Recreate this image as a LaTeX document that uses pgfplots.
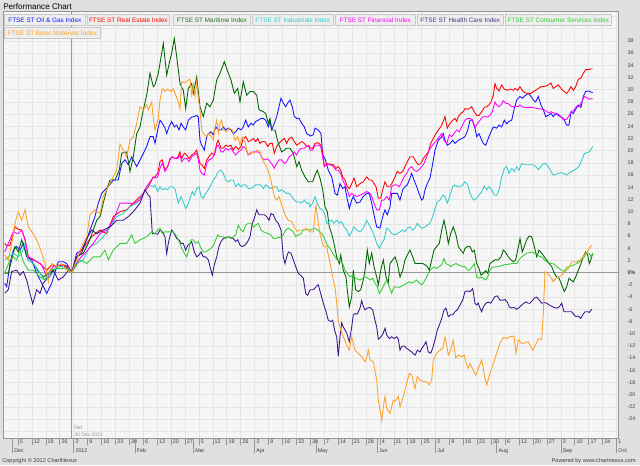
\documentclass[border=0pt]{standalone}
\usepackage{fontspec}
\setmainfont{Liberation Sans}
\usepackage{pgfplots}
\pgfplotsset{compat=1.18}
\definecolor{outerbg}{RGB}{224,224,224}
\definecolor{plotbg}{RGB}{246,246,246}
\definecolor{gridc}{RGB}{229,229,229}
\definecolor{framec}{RGB}{150,150,150}
\definecolor{tickc}{RGB}{60,60,60}
\definecolor{refc}{RGB}{140,158,140}
\definecolor{legfill}{RGB}{238,238,238}
\definecolor{legdraw}{RGB}{200,200,200}
\definecolor{cBlue}{RGB}{20,20,255}
\definecolor{cRed}{RGB}{255,0,0}
\definecolor{cDkGreen}{RGB}{0,100,0}
\definecolor{cCyan}{RGB}{51,204,204}
\definecolor{cMagenta}{RGB}{255,0,255}
\definecolor{cIndigo}{RGB}{60,20,140}
\definecolor{cGreen}{RGB}{50,205,50}
\definecolor{cOrange}{RGB}{255,160,40}
\newcommand{\tfont}{\fontsize{4}{4.5}\selectfont}
\newcommand{\lfont}{\fontsize{4.8}{5.5}\selectfont}
\begin{document}
\begin{tikzpicture}
\path[use as bounding box] (0,0) rectangle (480pt,348.75pt);
\fill[outerbg] (0,0) rectangle (480pt,348.75pt);
\begin{axis}[
  at={(2.625pt,20.25pt)}, anchor=south west,
  scale only axis, width=461.1pt, height=319.5pt,
  xmin=3.5, xmax=618.3, ymin=-27.1, ymax=42.74,
  axis background/.style={fill=plotbg},
  axis line style={draw=framec, line width=0.75pt},
  grid=major, major grid style={draw=gridc, line width=0.5pt},
  xtick={18,31.92,45.84,59.76,73.68,87.6,101.52,115.44,129.36,143.28,157.2,171.12,185.04,198.96,212.88,226.8,240.72,254.64,268.56,282.48,296.4,310.32,324.24,338.16,352.08,366,379.92,393.84,407.76,421.68,435.6,449.52,463.44,477.36,491.28,505.2,519.12,533.04,546.96,560.88,574.8,588.72,602.64,616.56},
  xticklabels={5,12,19,26,2,9,16,23,30,6,13,20,27,5,12,19,26,2,9,16,23,30,7,14,21,28,4,11,18,25,2,9,16,23,30,6,13,20,27,3,10,17,24,1},
  xtick pos=left, tick align=outside, major tick length=5.25pt,
  x tick style={draw=framec, line width=0.5pt},
  xticklabel style={anchor=north west, inner sep=0pt, xshift=1.2pt, yshift=4pt},
  ytick={-26,-24,...,42},
  yticklabels={,-24,-22,-20,-18,-16,-14,-12,-10,-8,-6,-4,-2,\textbf{0\%},2,4,6,8,10,12,14,16,18,20,22,24,26,28,30,32,34,36,38,,},
  ytick pos=right, yticklabel pos=right,
  y tick style={draw=none},
  yticklabel style={anchor=west, inner sep=0pt, xshift=1.5pt},
  ticklabel style={font=\tfont, text=tickc},
  extra x ticks={12.4,73.7,135,193.4,254.6,315.9,377.2,435.6,496.8,560.9,616.6},
  extra x tick labels={Dec,2012,Feb,Mar,Apr,May,Jun,Jul,Aug,Sep,Oct},
  extra x tick style={grid=none, major tick length=11.25pt, xticklabel style={yshift=-0.5pt}},
]
\addplot[draw=gray!80, line width=0.9pt, forget plot] coordinates {(3.5,0) (618.3,0)};
\addplot[draw=refc, line width=0.75pt, forget plot] coordinates {(71.7,-27.1) (71.7,42.74)};
% Oil & Gas
\addplot[cBlue, line width=0.65pt] coordinates {(4.7,-1.7)(6.7,-2.3)(10,1.5)(13.3,3.7)(16.7,4.3)(20,3.7)(23.3,4.8)(26.7,2.6)(31.7,2.1)(36.7,-0.1)(41.7,-1.7)(46.7,-3.4)(51.7,-1.7)(58.3,1.8)(63.3,1.8)(66.7,1.5)(71.7,0)(76.7,3.2)(81.7,3.7)(86.7,5.4)(90,7.0)(95,9.2)(98.3,11.4)(101.7,13.0)(105,13.6)(108.3,14.1)(113.3,15.2)(118.3,15.2)(121.7,17.9)(125,18.5)(128.3,17.7)(131.7,19.0)(136.7,17.4)(141.7,19.0)(146.7,20.7)(150,22.3)(153.3,22.3)(155,21.2)(157.7,23.4)(160,25.0)(162.3,24.5)(165,23.7)(166.7,22.8)(169,23.9)(171.7,24.8)(174.3,23.9)(176.7,24.2)(179,23.4)(181,24.5)(183.3,23.9)(185.7,23.4)(188.3,25.0)(191.7,25.5)(194.3,25.6)(196.7,25.8)(198.3,25.5)(200,21.7)(201.7,20.9)(204.3,20.1)(206.7,22.3)(208.3,22.8)(211,23.1)(213.3,22.6)(215.7,23.9)(218.3,23.4)(221,23.4)(223.3,23.9)(225.7,23.4)(228.3,23.7)(231,23.4)(233.3,22.8)(235.7,23.1)(238.3,23.7)(241,23.4)(243.3,23.9)(245.7,25.0)(248.3,23.9)(251,24.5)(253.3,24.2)(255.7,24.8)(258.3,25.0)(261,25.3)(263.3,25.3)(265.7,25.0)(268.3,23.9)(270,24.8)(271.7,23.4)(274.3,24.5)(276.7,25.6)(279,27.2)(281,28.6)(283.3,27.8)(285.7,27.2)(287.7,27.8)(290,28.3)(292.3,27.2)(294.3,25.6)(296.7,25.3)(299,25.3)(301.7,24.5)(304.3,23.9)(306.7,22.8)(309,22.6)(310,22.4)(313.3,22.6)(315,23.7)(318.3,23.4)(321,22.8)(322.7,19.3)(325,18.7)(328.3,16.8)(331.7,15.7)(335,13.0)(337.3,12.7)(340,14.6)(342.7,13.8)(345,14.1)(346.7,12.5)(349.3,10.5)(351.7,11.9)(353.3,12.5)(356.7,11.4)(360,11.6)(363.3,12.5)(366.7,13.0)(369.3,13.0)(371.7,11.4)(374,9.5)(376.7,7.5)(380,7.3)(382.7,9.2)(385,10.3)(387.3,9.5)(390,10.8)(391.7,13.0)(395,13.0)(397.3,13.0)(400,11.9)(402.7,13.6)(405,14.1)(407.3,14.4)(410,15.5)(411.7,16.3)(414,15.2)(416.7,14.1)(419,13.0)(421.7,11.9)(423.3,12.2)(425,13.6)(427.3,14.6)(430,15.5)(432.7,17.9)(435,20.1)(438.3,21.7)(441.7,22.3)(443.3,22.8)(445,21.7)(447.3,20.9)(450,21.2)(452.7,21.7)(455,21.2)(458.3,21.7)(461.7,22.0)(465,22.3)(467.7,23.4)(470,25.0)(472.3,25.0)(475,23.7)(476.7,22.3)(479,22.8)(481,22.0)(483.3,21.2)(485.7,20.9)(488.3,22.0)(491,23.1)(493.3,23.9)(496.7,23.7)(499,24.2)(501.7,23.9)(504.3,25.0)(506.7,24.4)(509,24.8)(511.7,25.0)(514.3,26.9)(516.7,28.3)(520,28.9)(522.3,28.6)(525,29.0)(528.3,29.4)(531,28.9)(533.3,28.3)(535.7,28.0)(538.3,28.9)(541,27.5)(543.3,26.7)(545.7,25.6)(548.3,25.8)(551,26.1)(553.3,25.6)(555.7,26.1)(558.3,25.8)(561,25.5)(563.3,25.3)(566.7,24.2)(569,24.2)(571,26.4)(573.3,26.1)(575.7,26.8)(578.3,27.5)(581,27.1)(583.3,28.9)(585.7,29.7)(588.3,29.8)(592.7,29.5)};
% Real Estate
\addplot[cRed, line width=0.65pt] coordinates {(4.7,4.8)(6.7,4.4)(10,4.5)(15,7.5)(18.3,7.1)(21.7,7.0)(25,5.5)(28.3,2.6)(33.3,2.1)(40,1.5)(46.7,0.4)(51.7,1.3)(56.7,1.0)(63.3,1.3)(68.3,1.0)(71.7,0)(76.7,2.6)(81.7,3.7)(86.7,4.8)(91.7,5.9)(100,7.0)(106.7,6.4)(113.3,9.2)(120,10.0)(126.7,10.3)(133.3,11.4)(143.3,13.0)(148.3,14.1)(153.3,15.7)(155,15.7)(157.7,16.3)(160,18.2)(162.3,18.5)(165,16.8)(167.7,17.4)(170,18.7)(172.3,19.0)(175,18.7)(177.7,18.9)(180,19.8)(181.7,18.7)(184.3,19.6)(186.7,19.3)(189,18.7)(191.7,19.3)(194.3,19.6)(196.7,20.1)(198.3,19.0)(200,17.9)(201.7,17.7)(204.3,17.1)(206.7,18.5)(209,19.0)(211.7,19.6)(214.3,19.3)(216.7,21.2)(218.3,21.7)(221,20.4)(223.3,20.4)(225.7,20.9)(228.3,20.7)(231,20.9)(233.3,20.1)(235.7,20.7)(238.3,20.2)(241,20.7)(243.3,22.0)(245.7,22.3)(248.3,21.5)(251,21.7)(253.3,22.0)(255.7,21.5)(257.7,22.0)(260,21.2)(262.3,21.5)(265,21.5)(267.7,20.7)(270,21.2)(272.3,21.2)(274.3,19.6)(276.7,20.7)(279,21.2)(281.7,21.7)(284.3,22.0)(286.7,21.2)(289,22.0)(291.7,22.2)(294.3,21.5)(296.7,20.9)(299,21.2)(301.7,21.5)(304.3,21.2)(306.7,20.7)(309,20.7)(310,20.5)(312.7,20.4)(315,21.2)(318.3,21.3)(320.7,20.9)(322.7,19.8)(324.3,17.4)(326.7,17.9)(330,17.8)(333.3,17.7)(336,17.1)(338.3,17.4)(340.7,16.8)(342.7,15.7)(345,15.2)(347.3,14.1)(349.3,13.8)(351.7,14.6)(354,15.5)(356.7,14.1)(360,14.6)(363.3,14.9)(366.7,15.7)(369.3,15.2)(371.7,15.2)(374,14.6)(376,14.1)(378.3,12.2)(380.7,12.2)(382.7,13.6)(385,14.9)(387.3,14.1)(390,14.1)(392.7,14.9)(395,15.7)(397.3,16.6)(400,16.3)(402.7,16.6)(405,17.4)(407.3,18.2)(410,19.0)(413.3,19.0)(416,18.2)(418.3,17.7)(420.7,17.9)(423.3,18.7)(426,19.3)(428.3,19.8)(430.7,21.2)(433.3,22.0)(436,22.8)(438.3,23.4)(440.7,23.9)(442.7,24.6)(445,25.6)(447.3,23.7)(450,24.5)(452.7,25.0)(455,25.3)(456.7,24.8)(458.3,25.6)(460.7,26.1)(463.3,26.4)(465,26.9)(468.3,26.8)(471.7,27.2)(474.3,26.4)(476.7,25.8)(479,25.8)(481.7,26.4)(484.3,27.1)(486.7,27.2)(489,27.5)(491,28.0)(493.3,29.1)(495,31.0)(496.7,30.2)(499,29.8)(501.7,30.8)(504.3,30.1)(507.7,29.9)(510,30.1)(513.3,29.9)(515,30.2)(517.7,29.9)(520,30.5)(522.3,29.9)(525,29.5)(528.3,29.4)(531,29.4)(533.3,29.7)(535.7,29.9)(538.3,30.2)(541,30.5)(543.3,30.5)(545.7,30.6)(548.3,30.8)(551,31.1)(553.3,30.2)(555.7,30.5)(558.3,30.8)(561,30.2)(563.3,29.8)(566.7,29.4)(569,29.9)(571,30.5)(573.3,29.9)(575.7,30.5)(578.3,31.7)(581,31.9)(583.3,32.7)(585.7,33.3)(588.3,33.3)(591,33.4)(592.7,33.4)};
% Maritime
\addplot[cDkGreen, line width=0.65pt] coordinates {(4.7,-0.1)(8.3,-0.1)(11.7,2.1)(15,4.3)(18.3,3.4)(21.7,5.4)(25,3.7)(28.3,2.1)(33.3,1.5)(38.3,0.2)(43.3,-0.7)(48.3,-0.1)(53.3,0.4)(60,1.3)(66.7,1.0)(71.7,0)(76.7,2.6)(83.3,3.2)(88.3,4.8)(93.3,7.0)(96.7,8.6)(100,9.2)(103.3,11.4)(106.7,13.6)(110,15.2)(115,15.2)(119.3,16.8)(121.7,19.6)(126.7,19.8)(130,16.6)(133.3,19.0)(136.7,22.8)(140,23.9)(143.3,26.7)(146.7,29.1)(150,32.7)(153.3,30.5)(155,30.8)(158.3,32.7)(161.7,36.0)(163.3,37.6)(166.7,32.4)(170,34.9)(171.7,36.0)(174.3,38.4)(176.7,35.4)(180,31.0)(183.3,29.9)(185.7,26.9)(188.3,30.2)(191.7,31.0)(193.3,29.4)(196.7,32.1)(198.3,29.7)(200,27.2)(203.3,25.6)(206.7,27.8)(210,27.2)(213.3,28.3)(216.7,31.6)(220,32.7)(224.3,34.6)(227.7,33.0)(231,31.6)(234.3,29.4)(237.7,30.2)(240,28.0)(243.3,31.3)(246.7,29.1)(250,29.7)(253.3,29.7)(256.7,29.1)(259,26.7)(263.3,26.4)(265.7,26.1)(268.3,24.5)(270,25.3)(271.7,23.4)(275,23.4)(278.3,21.2)(281.7,19.8)(286.7,20.4)(290,20.4)(293.3,19.6)(296.7,17.4)(299,18.2)(301.7,16.8)(305,15.7)(308.3,14.9)(310,14.9)(312.7,14.9)(315,16.0)(317.3,16.8)(320,15.5)(322.7,13.6)(325,10.8)(327.3,10.0)(329.3,7.5)(331.7,6.4)(334,4.8)(336.7,2.6)(339.3,1.5)(340.7,2.9)(343.3,0.4)(346,-0.7)(347.3,-2.8)(349.3,-5.6)(351.7,-3.9)(353.3,0.4)(355.7,-2.8)(358.3,-3.1)(360.7,-2.8)(363.3,-1.2)(365,0.4)(367.3,3.7)(369.3,1.5)(371.7,3.2)(374,1.0)(376.7,-0.7)(378.3,-2.0)(380.7,0.4)(383.3,2.1)(386,-0.7)(388.3,-1.7)(390,1.5)(392.7,2.1)(395,2.6)(397.3,1.5)(400,-0.7)(402.7,0.4)(405,2.1)(407.3,2.9)(410,3.7)(412.7,2.6)(415,1.5)(417.3,1.5)(422.7,1.5)(425,1.3)(427.3,1.0)(429.3,0.4)(431.7,2.1)(434,3.7)(436.7,4.3)(439.3,4.8)(441.7,7.0)(444,8.6)(446.7,6.4)(448.3,4.8)(450.7,6.4)(453.3,7.5)(456,6.2)(458.3,4.3)(460.7,3.7)(463.3,3.2)(465,4.0)(467.7,4.3)(470,4.3)(472.3,3.4)(474.3,3.7)(476.7,1.5)(479,0.7)(481,-0.4)(483.3,-0.1)(485.7,0.3)(487.7,-0.1)(490,1.5)(492.3,1.8)(495,2.1)(498.3,2.1)(501,2.6)(503.3,3.7)(505.7,3.3)(508.3,2.6)(511,2.1)(513.3,1.8)(515.7,2.1)(517.7,3.7)(520,5.6)(522.3,3.4)(524.3,4.3)(526.7,5.4)(529,6.0)(531.7,5.9)(534.3,4.3)(536.7,2.6)(539,3.7)(541.7,3.2)(544.3,2.6)(546.7,2.1)(549,1.5)(551.7,1.0)(554.3,-0.1)(556.7,-0.7)(559,-0.9)(561.7,-2.0)(564.3,-3.1)(566.7,-2.3)(569,-0.9)(571,-1.2)(573.3,-1.5)(575.7,-0.7)(578.3,0.4)(581,1.5)(583.3,2.6)(585.7,3.4)(587.7,2.9)(589.3,1.5)(591,2.2)(592.7,3.2)};
% Industrials
\addplot[cCyan, line width=0.65pt] coordinates {(4.7,2.1)(8.3,2.6)(13.3,3.2)(18.3,2.6)(21.7,3.2)(25,4.8)(28.3,2.1)(33.3,1.5)(38.3,0.4)(43.3,-0.9)(50,-0.7)(56.7,1.0)(63.3,1.0)(68.3,0.7)(71.7,0)(76.7,1.5)(83.3,2.1)(90,4.3)(96.7,4.8)(103.3,5.9)(110,7.5)(116.7,9.2)(123.3,9.7)(130,10.8)(136.7,11.4)(143.3,13.0)(148.3,14.4)(153.3,14.1)(155,14.4)(157.7,13.3)(160,14.1)(162.3,13.6)(165,13.8)(167.7,13.6)(170,14.1)(172.3,14.1)(175,13.8)(176.7,12.5)(178.3,11.4)(181,12.5)(183.3,11.6)(185.7,10.5)(187.7,11.1)(190,12.2)(192.3,13.3)(194.3,12.7)(196.7,13.8)(199,14.1)(201,12.5)(203.3,12.2)(205.7,13.0)(208.3,13.6)(211,14.4)(213.3,15.2)(215.7,15.7)(218.3,16.6)(221,16.8)(223.3,16.3)(225.7,15.2)(228.3,14.9)(231,15.2)(233.3,15.2)(235.7,14.1)(238.3,14.6)(241,14.1)(243.3,14.4)(245.7,14.4)(248.3,13.8)(251,13.8)(253.3,14.1)(255.7,14.4)(261,14.4)(263.3,13.8)(265.7,14.4)(268.3,14.1)(270,13.8)(274.3,14.1)(276.7,14.1)(279,13.3)(281.7,13.6)(284.3,13.3)(286.7,13.0)(289,13.0)(291.7,12.5)(294.3,11.9)(296.7,11.6)(299,11.6)(301.7,11.4)(304.3,11.9)(306.7,11.4)(309,11.4)(310,10.8)(312.7,11.4)(315,12.5)(317.3,11.4)(320,10.5)(322.7,10.3)(325,9.5)(326.7,8.1)(329.3,8.4)(331.7,8.6)(334,8.1)(336.7,8.6)(339.3,8.1)(341.7,8.4)(344,7.5)(346.7,7.0)(349.3,6.0)(351.7,6.7)(354,7.5)(356.7,7.0)(360,6.7)(363.3,7.3)(366.7,8.6)(369.3,7.8)(371.7,7.0)(374,6.2)(376.7,4.8)(379.3,4.0)(381.7,4.8)(384,5.4)(386.7,7.3)(389.3,7.0)(391.7,6.4)(395,6.2)(397.3,6.4)(400,6.7)(402.7,7.0)(405,6.7)(407.3,7.3)(410,7.5)(412.7,7.0)(415,7.3)(417.3,8.1)(420,7.5)(422.7,7.3)(425,7.5)(427.3,7.8)(430,8.1)(432.7,9.2)(435,10.5)(437.3,11.6)(440,11.9)(442.7,12.7)(445,12.5)(447.3,11.4)(450,12.7)(452.7,14.1)(455,14.4)(457.3,14.1)(460,14.1)(462.7,14.4)(465,14.9)(467.7,14.4)(470,13.0)(472.3,12.2)(474.3,11.9)(476.7,12.2)(479,12.7)(481.7,13.3)(484.3,14.2)(486.7,13.6)(489,14.1)(491.7,13.6)(494.3,12.7)(496.7,12.7)(499,13.6)(501.7,15.7)(504.3,17.1)(506.7,17.4)(509,16.3)(511.7,17.1)(514.3,16.6)(516.7,17.4)(519,16.8)(521.7,17.9)(524.3,17.7)(530,17.7)(533.3,17.7)(535.7,17.4)(538.3,16.9)(541,17.4)(543.3,17.9)(545.7,17.9)(548.3,17.4)(551,16.6)(553.3,16.0)(555.7,16.1)(558.3,16.3)(561,16.4)(563.3,16.3)(566.7,16.0)(569,16.3)(571.7,16.6)(574.3,16.8)(576.7,17.1)(579,17.4)(581.7,18.5)(584.3,19.5)(586.7,19.7)(589,19.8)(591,20.2)(592.7,20.7)};
% Financial
\addplot[cMagenta, line width=0.65pt] coordinates {(4.7,3.4)(8.3,4.8)(13.3,6.7)(18.3,6.4)(21.7,7.0)(25,5.4)(28.3,2.6)(33.3,2.2)(41.7,1.3)(46.7,-0.7)(53.3,1.0)(60,1.3)(66.7,0.9)(71.7,0)(78.3,2.1)(85,3.2)(93.3,4.8)(100,6.4)(106.7,7.0)(113.3,8.6)(120,11.4)(128.3,11.4)(133.3,11.3)(140,11.9)(146.7,14.1)(153.3,15.7)(155,15.5)(157.7,15.7)(160,17.1)(162.3,18.0)(165,16.6)(167.7,17.4)(170,18.5)(172.3,19.0)(175,18.7)(177.7,18.7)(180,19.3)(181.7,18.2)(184.3,18.7)(186.7,18.7)(189,18.2)(191.7,19.0)(194.3,19.3)(196.7,19.6)(198.3,18.5)(200,16.8)(201.7,16.3)(204.3,16.0)(206.7,17.9)(209,18.5)(211.7,18.7)(214.3,19.3)(216.7,20.7)(218.3,20.9)(221,19.8)(223.3,19.8)(225.7,20.4)(228.3,20.1)(231,20.4)(233.3,19.8)(235.7,19.3)(238.3,19.8)(241,20.1)(243.3,20.7)(245.7,20.4)(248.3,19.3)(251,19.6)(253.3,19.8)(257.7,19.8)(260,19.6)(262.3,18.7)(265,18.5)(267.7,18.7)(270,18.2)(272.3,17.7)(274.3,17.1)(276.7,17.9)(279,18.5)(281.7,18.5)(284.3,17.9)(286.7,18.2)(289,19.0)(291.7,19.3)(294.3,19.8)(296.7,19.3)(299,20.1)(301.7,20.4)(304.3,20.4)(306.7,20.7)(309,20.9)(310,20.1)(312.7,20.1)(315,20.9)(318.3,20.9)(320.7,20.7)(322.7,19.0)(324.3,17.4)(327.3,17.7)(330,17.7)(333.3,17.4)(336,16.8)(338.3,16.8)(340.7,16.3)(342.7,15.2)(345,14.4)(347.3,13.6)(349.3,12.5)(351.7,13.0)(354,12.7)(356.7,12.5)(360,12.7)(363.3,13.0)(366.7,13.3)(369.3,13.1)(371.7,12.5)(374,11.4)(376.7,10.3)(379.3,10.3)(381.7,11.9)(384,11.9)(386.7,12.5)(389.3,11.9)(391.7,14.1)(394,14.4)(396.7,14.4)(399.3,14.1)(401.7,14.9)(404,15.7)(406.7,16.3)(409.3,17.1)(411.7,17.4)(414,16.8)(416.7,16.6)(419.3,16.9)(421.7,17.4)(424,17.9)(426.7,19.0)(429.3,20.1)(431.7,20.7)(434,21.2)(436.7,21.7)(439.3,22.3)(441.7,22.8)(444,21.7)(446.7,21.2)(449.3,22.6)(451.7,22.3)(454,22.8)(456.7,23.4)(459.3,23.1)(461.7,23.9)(465,25.0)(467.7,25.3)(470,25.3)(472.3,25.1)(475,23.8)(477.7,24.5)(480,25.0)(482.3,25.5)(485,25.6)(487.7,25.5)(490,25.8)(492.3,26.4)(495,28.0)(496.7,27.5)(499,27.2)(501,27.5)(503.3,28.2)(505.7,27.8)(508.3,27.7)(511,27.3)(513.3,27.2)(515.7,27.3)(518.3,27.2)(520,27.5)(522.3,27.2)(525,27.1)(531.7,27.1)(535,27.0)(538.3,26.9)(541.7,26.8)(544.3,26.7)(546.7,26.4)(549,26.2)(551,26.4)(553.3,26.2)(555.7,26.1)(558.3,26.0)(561,25.6)(563.3,25.1)(566.7,25.1)(569,25.8)(571.7,26.4)(574.3,26.7)(576.7,27.3)(579,27.2)(581.7,28.0)(584.3,28.9)(586.7,28.7)(589,28.5)(592.7,28.5)};
% Health Care
\addplot[cIndigo, line width=0.65pt] coordinates {(4.7,-3.4)(8.3,-2.8)(11.7,0.2)(16.7,0.4)(20,-0.4)(23.3,0.2)(26.7,-1.2)(30,-3.4)(32.7,-5.1)(36.7,-2.8)(40,-3.4)(43.3,-1.7)(48.3,-0.7)(53.3,0.4)(58.3,-1.2)(63.3,-0.7)(68.3,0.4)(71.7,0)(76.7,2.6)(81.7,3.2)(86.7,5.6)(91.7,7.0)(96.7,6.4)(103.3,7.0)(110,7.5)(116.7,8.6)(123.3,8.6)(128.3,9.2)(133.3,10.0)(140,11.4)(145,13.6)(148.3,12.7)(150,12.5)(152.3,6.4)(155,6.4)(157.7,6.3)(160,7.0)(162.3,6.7)(165,5.9)(166.7,3.1)(168.3,4.8)(170,6.0)(171.7,7.0)(174.3,6.4)(176.7,5.6)(179,5.4)(181,4.8)(183.3,4.8)(185.7,3.7)(187.7,4.5)(190,4.8)(191.7,5.1)(194.3,3.4)(196.7,2.6)(199,2.9)(201,3.4)(203.3,2.6)(205.7,2.6)(208.3,2.1)(210,1.0)(212.3,-0.4)(214.3,1.3)(216.7,2.6)(219,4.3)(221,5.1)(223.3,5.6)(228.3,5.9)(233.3,5.6)(235.7,5.1)(237.7,5.4)(240,4.5)(242.3,4.3)(245,4.5)(247.7,5.1)(250,5.9)(252.3,8.1)(254.3,8.9)(256.7,10.3)(259,9.5)(264.3,9.5)(266.7,9.2)(269,8.6)(271,9.7)(273.3,9.5)(275.7,8.6)(278.3,8.1)(281,7.0)(283.3,2.6)(285,1.5)(286.7,2.6)(288.3,3.4)(291,3.2)(293.3,2.1)(295.7,1.0)(298.3,-0.1)(301,-0.5)(303.3,-0.9)(305.7,-3.4)(307.7,-3.7)(310,-2.8)(313.3,-2.8)(316.7,-2.2)(318.3,-2.0)(320.7,-3.4)(323.3,-5.0)(326,-6.4)(328.3,-7.8)(330.7,-8.0)(332.7,-7.8)(335,-9.7)(336.7,-10.5)(338.3,-13.7)(340,-10.5)(341.7,-8.2)(343.3,-8.9)(346.7,-9.9)(349.3,-11.3)(351.7,-8.9)(353.3,-6.9)(355,-6.7)(357.3,-6.8)(360,-5.8)(361.7,-4.6)(363.3,-5.5)(365,-6.1)(367.3,-5.8)(370,-5.7)(372.7,-6.1)(375,-7.8)(376.7,-8.9)(378.3,-10.9)(380.7,-10.6)(383.3,-9.9)(385,-9.1)(386.7,-10.2)(389.3,-10.8)(391.7,-10.5)(394,-10.8)(396.7,-10.5)(398.3,-10.9)(400,-12.7)(401.7,-12.1)(404,-12.0)(406.7,-12.4)(409.3,-12.7)(411.7,-13.0)(413.3,-13.3)(415.3,-13.5)(417.3,-12.7)(420,-13.0)(421.7,-12.4)(423.3,-12.1)(426,-11.3)(428.3,-13.0)(430.7,-13.2)(432.7,-12.4)(435,-11.0)(437.3,-9.4)(439.3,-8.6)(441.7,-7.5)(444,-6.1)(446,-5.8)(448.3,-7.2)(450.7,-6.9)(452.7,-6.9)(455,-6.4)(457.3,-6.1)(460,-5.3)(462.7,-4.5)(465,-3.1)(467.3,-3.0)(470,-3.1)(472.7,-2.6)(475,-5.0)(476.7,-5.3)(478.3,-5.0)(480,-5.8)(481.7,-6.4)(483.3,-5.6)(486,-5.0)(488.3,-4.8)(490.7,-5.0)(492.7,-4.5)(495,-3.9)(497.3,-3.8)(500,-4.5)(502.7,-4.5)(505,-4.4)(507.3,-4.8)(509.3,-5.6)(511.7,-5.8)(514,-5.7)(516.7,-6.0)(519.3,-5.7)(521.7,-5.3)(524,-5.0)(526,-4.8)(528.3,-5.0)(530,-5.0)(532.7,-4.5)(534,-4.2)(536.7,-4.0)(539.3,-4.5)(541.7,-5.0)(544,-4.9)(546.7,-5.0)(549.3,-5.3)(551.7,-5.5)(554,-5.7)(556.7,-5.8)(559.3,-5.6)(561.7,-5.0)(564,-6.4)(569.3,-6.4)(571.7,-6.4)(574,-6.9)(576,-7.2)(578.3,-7.1)(580.7,-7.5)(582.7,-6.9)(585,-6.4)(587.3,-6.4)(589.3,-6.5)(591.7,-6.0)};
% Consumer Services
\addplot[cGreen, line width=0.65pt] coordinates {(4.7,-0.1)(10,2.1)(13.3,2.6)(16.7,2.1)(20,3.7)(23.3,1.8)(28.3,0.4)(33.3,0.4)(40,-0.7)(45,-1.2)(50,0.4)(56.7,0.7)(66.7,0.7)(71.7,0)(80,2.1)(86.7,1.5)(93.3,2.6)(100,2.6)(105,3.7)(108.3,2.1)(113.3,3.7)(120,4.8)(126.7,4.8)(131.7,6.2)(135,4.8)(140,5.4)(146.7,5.9)(151.7,6.7)(155,6.4)(157.7,7.0)(160,7.3)(162.3,6.4)(165,6.7)(172.3,6.7)(175,6.4)(177.7,5.6)(180,4.8)(181.7,4.0)(184.3,3.2)(186.7,2.6)(188.3,3.4)(191,5.4)(193.3,5.4)(195.7,4.8)(198.3,5.1)(201,4.0)(203.3,3.4)(205.7,3.4)(208.3,3.7)(211,4.0)(213.3,4.4)(215.7,5.4)(217.7,6.2)(220,5.9)(223.3,5.9)(225.7,5.6)(228.3,5.9)(231,5.6)(233.3,5.9)(235.7,6.2)(238.3,7.8)(241,7.0)(243.3,6.7)(245.7,7.8)(248.3,8.1)(251,8.1)(253.3,7.5)(255.7,7.8)(258.3,8.1)(261,7.0)(263.3,6.7)(268.3,6.4)(271,6.2)(273.3,5.6)(275.7,5.6)(281,5.9)(283.3,6.2)(285.7,7.0)(288.3,7.3)(291,7.0)(293.3,6.7)(295.7,5.9)(298.3,6.2)(301,6.4)(303.3,7.0)(308.3,7.0)(310,7.0)(315,7.3)(317.3,7.0)(320,6.7)(322.7,6.2)(325,5.4)(327.3,4.5)(330,4.0)(332.7,3.2)(335,2.6)(337.3,2.1)(340,1.8)(342.7,1.5)(345,0.4)(347.3,-0.1)(350,-0.7)(352.7,-0.4)(355,-0.9)(360,-1.2)(362.7,-0.9)(365,-0.7)(367.3,-0.8)(370,-1.2)(372.7,-0.9)(375,-1.7)(377.3,-2.3)(379.3,-3.4)(381.7,-2.8)(384,-2.0)(386.7,-1.2)(389.3,-2.3)(391.7,-3.4)(394,-2.3)(399.3,-2.4)(401.7,-2.2)(404,-2.0)(406.7,-1.7)(409.3,-1.5)(411.7,-1.7)(414,-1.5)(416.7,-1.2)(419.3,-1.7)(421.7,-2.0)(424,-1.5)(426.7,-0.7)(429.3,0.2)(431.7,0.7)(434,0.9)(436.7,0.7)(439.3,1.0)(441.7,1.3)(444,2.3)(446,1.5)(448.3,1.3)(450.7,1.0)(453.3,1.3)(456,1.5)(458.3,1.3)(460.7,1.1)(463.3,1.0)(465,1.0)(467.7,0.4)(470,0.5)(472.3,1.0)(474.3,1.5)(476.7,-0.7)(479,-0.9)(481,-0.7)(483.3,-0.9)(485.7,-1.2)(487.7,-0.7)(490,0.4)(492.3,0.9)(498.3,1.0)(504.3,1.3)(509,1.4)(511.7,1.5)(516.7,1.5)(519,2.1)(521.7,2.6)(524.3,2.9)(526.7,3.2)(529,3.3)(531.7,3.4)(534.3,3.2)(536.7,3.1)(539,2.7)(541.7,2.6)(544.3,2.1)(546.7,1.8)(549,1.6)(551.7,1.5)(554.3,1.4)(556.7,1.0)(559,0.7)(561.7,0.4)(564.3,0.2)(566.7,0.9)(571.7,1.1)(576.7,1.5)(581.7,2.1)(584.3,2.6)(586.7,3.3)(589,3.2)(591,2.6)(592.7,3.2)};
% Basic Materials
\addplot[cOrange, line width=0.65pt] coordinates {(4.7,2.9)(8.3,2.1)(11.7,4.8)(15,8.1)(18.3,10.0)(21.7,8.6)(25,10.3)(28.3,7.5)(33.3,6.4)(38.3,4.8)(41.7,3.2)(45,1.5)(48.3,-1.5)(51.7,1.5)(56.7,1.0)(61.7,1.5)(66.7,0.4)(71.7,0)(76.7,2.1)(81.7,4.3)(86.7,5.9)(90,9.5)(95,10.3)(100,9.7)(103.3,12.5)(106.7,13.6)(111.7,15.2)(116.7,16.8)(120,21.1)(123.3,20.1)(126.7,19.0)(130,21.7)(133.3,22.3)(136.7,24.5)(140,27.2)(143.3,26.7)(146.7,27.5)(148.3,26.7)(151.7,28.0)(153.3,25.3)(155,23.4)(158.3,25.3)(160,28.3)(162.3,30.2)(165,29.7)(167.7,30.1)(171,29.7)(173.3,30.2)(175.7,29.1)(178.3,28.0)(180,26.9)(181.7,31.3)(185,31.1)(188.3,31.6)(190,31.7)(191.7,29.1)(193.3,30.8)(195,28.9)(196.7,31.3)(198.3,28.6)(200,26.7)(201.7,23.4)(204.3,22.6)(206.7,22.3)(208.3,22.8)(211.7,22.3)(213.3,21.7)(215,23.7)(216.7,25.0)(218.3,22.8)(220,24.5)(221.7,25.0)(223.3,23.4)(226.7,23.1)(229,23.7)(232.3,23.4)(235,21.7)(237.7,22.3)(240,20.9)(242.3,22.3)(245,21.5)(247.7,19.3)(251,19.8)(254.3,19.6)(256.7,20.1)(260,19.8)(263.3,18.2)(265.7,17.7)(268.3,16.6)(270,15.7)(272.3,14.1)(274.3,12.5)(276.7,11.9)(279,12.5)(281.7,11.1)(285,9.5)(288.3,8.6)(291.7,8.4)(294.3,7.5)(296.7,6.8)(300,7.0)(303.3,7.0)(306.7,7.3)(310,6.7)(313.3,6.7)(315,9.7)(316,11.1)(318.3,8.1)(320,6.4)(323.3,4.3)(326.7,4.3)(330,1.5)(333.3,-1.2)(335,-2.3)(336.7,-5.0)(338.3,-7.8)(340.7,-9.4)(343.3,-10.5)(346.7,-11.9)(349.3,-12.7)(351.7,-10.5)(355,-12.7)(358.3,-13.2)(361.7,-13.8)(365,-14.6)(366.7,-14.0)(368.3,-12.7)(370,-14.3)(373.3,-14.6)(376.7,-17.6)(378.3,-20.9)(380,-22.5)(381.7,-24.2)(383.3,-22.0)(385,-20.3)(386.7,-22.2)(390,-23.1)(393.3,-20.9)(395,-21.1)(398.3,-20.3)(400,-22.0)(403.3,-20.3)(406.7,-18.1)(409.3,-16.5)(411.7,-16.8)(415,-19.0)(417.3,-17.0)(420,-17.6)(423.3,-17.8)(426.7,-17.9)(429.3,-18.4)(431.7,-17.6)(433.3,-14.3)(436.7,-13.2)(440,-12.7)(442.7,-12.4)(445,-10.5)(446.7,-11.9)(448.3,-13.5)(450.7,-12.7)(453.3,-11.1)(455.7,-14.0)(458.3,-13.5)(461.7,-13.8)(464,-13.5)(466.7,-15.1)(468.3,-15.7)(470,-14.9)(473.3,-16.0)(475.7,-16.8)(478.3,-15.7)(481.7,-14.3)(484.3,-16.8)(486.7,-18.4)(490,-16.5)(493.3,-14.9)(496.7,-13.2)(500,-11.6)(503.3,-10.6)(506.7,-10.8)(510,-10.5)(514,-10.4)(516,-13.2)(518.3,-11.0)(521.7,-11.6)(525,-11.5)(528.3,-11.3)(532.7,-12.7)(535,-12.1)(538.3,-10.8)(541.7,-11.0)(543.3,-6.7)(545,0.2)(547.3,-0.1)(550.7,-0.7)(553.3,-1.5)(556,-0.9)(558.3,-0.7)(561.7,-0.4)(565,0.2)(568.3,0.7)(571.7,1.8)(576.7,1.8)(580,2.1)(583.3,2.6)(586.7,3.4)(591.7,4.5)};
\end{axis}
\begin{scope}[x=0.75pt,y=-0.75pt,yshift=348.75pt]
\node[anchor=west, inner sep=0pt, font=\fontsize{6.1}{7}\selectfont] at (3,7) {Performance Chart};
\tikzset{leg/.style={anchor=north west, draw=legdraw, fill=legfill, line width=0.5pt, minimum height=8.25pt, inner sep=0pt, font=\lfont}}
\node[leg, minimum width=60.75pt, text=cBlue] at (4,14) {FTSE ST Oil \& Gas Index};
\node[leg, minimum width=61.5pt, text=cRed] at (87,14) {FTSE ST Real Estate Index};
\node[leg, minimum width=57.75pt, text=cDkGreen!70!gray] at (173,14) {FTSE ST Maritime Index};
\node[leg, minimum width=60.75pt, text=cCyan] at (252,14) {FTSE ST Industrials Index};
\node[leg, minimum width=60pt, text=cMagenta] at (335,14) {FTSE ST Financial Index};
\node[leg, minimum width=64.5pt, text=cIndigo!70!gray] at (417,14) {FTSE ST Health Care Index};
\node[leg, minimum width=79.5pt, text=cGreen] at (505,14) {FTSE ST Consumer Services Index};
\node[leg, minimum width=72pt, text=cOrange] at (4,27) {FTSE ST Basic Materials Index};
\node[anchor=base west, inner sep=0pt, font=\fontsize{3.8}{4}\selectfont, text=refc] at (74,429) {Ref.};
\node[anchor=base west, inner sep=0pt, font=\fontsize{3.8}{4}\selectfont, text=refc] at (74,436) {30 Dec 2011};
\node[anchor=base west, inner sep=0pt, font=\fontsize{4.2}{5}\selectfont, text=tickc] at (2,462) {Copyright \textcopyright\ 2012 ChartNexus};
\node[anchor=base east, inner sep=0pt, font=\fontsize{4.2}{5}\selectfont, text=tickc] at (636,462) {Powered by www.chartnexus.com};
\end{scope}
\end{tikzpicture}
\end{document}
